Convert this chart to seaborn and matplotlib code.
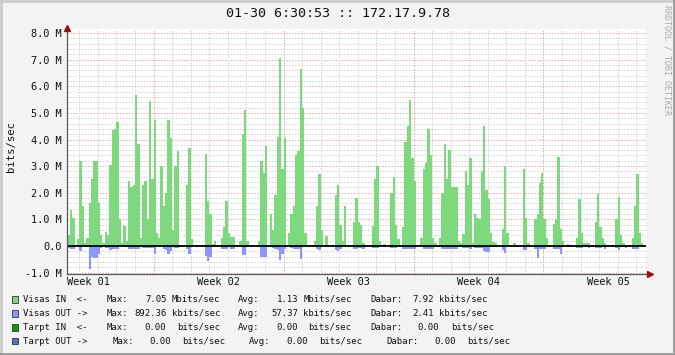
import numpy as np
import pandas as pd
import matplotlib
matplotlib.use("Agg")
import matplotlib.pyplot as plt
import seaborn as sns
from matplotlib.patches import Rectangle
from matplotlib.lines import Line2D

# ---- data: 3-hour samples (values in Mbit/s), grouped per week ----
in_w0 = [0, 0, 0.3, 0.4, 1.37, 1.06, 0.05, 0.25, 3.2, 1.5,
         0.1, 0.3, 1.6, 2.5, 3.2, 3.2, 1.6, 0.4, 0.1, 0.54,
         0.4, 3.05, 4.35, 4.4, 4.65, 1.0, 0.1, 0.75, 0.2, 2.44,
         2.2, 2.3, 5.69, 3.85, 0.3, 2.3, 2.44, 1.0, 5.45, 2.5]
in_w1 = [4.72, 0.5, 0.3, 3.0, 1.5, 2.0, 4.75, 4.06, 0.6, 3.0,
         3.56, 0.05, 0, 0.05, 2.3, 3.7, 0.25, 0.03, 0.03, 0.03,
         0, 0.03, 3.44, 1.7, 1.19, 0.06, 0.19, 0.03, 0.03, 0.3,
         0.7, 1.7, 0.5, 0.34, 0.35, 0.03, 0.03, 0.2, 4.2, 5.1,
         0.2, 0.03, 0.03, 0.03, 0.03, 0.2, 3.2, 2.75, 3.75, 0.05,
         1.2, 0.6, 1.9, 4.1, 7.05, 2.9]
in_w2 = [4.06, 0.03, 0.5, 1.2, 1.5, 3.4, 3.56, 6.65, 5.2, 0.5,
         0.03, 0.03, 0.03, 0.2, 1.5, 2.7, 0.6, 0.02, 0.37, 0.02,
         0.02, 0.02, 1.9, 2.3, 0.8, 0.2, 1.5, 0.05, 0.02, 0.02,
         0.9, 1.8, 0.9, 0.8, 0.1, 0.02, 0.02, 0.02, 0.75, 2.5,
         3.0, 0.19, 0.02, 0.08, 0.02, 0.02, 2.0, 2.6, 0.8, 0.25,
         0.02, 0.73, 3.9, 4.5, 5.5, 3.3]
in_w3 = [2.44, 0.05, 0.02, 0.3, 2.9, 3.1, 4.4, 3.4, 0.3, 0.1,
         0.02, 0.3, 2.0, 3.84, 2.5, 3.6, 2.2, 2.2, 2.2, 0.19,
         0.1, 0.44, 2.8, 2.3, 3.3, 0.1, 1.2, 1.04, 1.0, 2.8,
         4.5, 2.1, 1.75, 0.5, 0.15, 0.1, 0.02, 0.02, 0.63, 3.0,
         0.5, 0.02, 0.02, 0.1, 0.02, 0.02, 0.02, 2.9, 1.06, 0.1,
         0.02, 0.02, 1.0, 1.2, 2.37, 2.75]
in_w4 = [1.0, 0.3, 0.05, 0.02, 0.84, 1.0, 3.35, 0.63, 0.19, 0.02,
         0.08, 0.02, 0.02, 0.02, 0.3, 1.75, 0.5, 0.1, 0.1, 0.1,
         0.02, 0.02, 0.9, 1.94, 0.7, 0.3, 0.1, 0.02, 0.02, 0.02,
         0.02, 1.0, 1.84, 0.4, 0.1, 0.05, 0.02, 0.02, 0.3, 1.5,
         2.7, 0.5, 0.1, 0.05]

out_w0 = [0, 0, 0.05, 0.06, 0.1, 0.12, 0, 0.05, 0.2, 0.05,
          0.03, 0.05, 0.88, 0.4, 0.44, 0.44, 0.3, 0.06, 0.02, 0.06,
          0.06, 0.16, 0.12, 0.12, 0.12, 0.05, 0, 0.02, 0.05, 0.12,
          0.12, 0.12, 0.12, 0.12, 0.02, 0.08, 0.08, 0.08, 0.08, 0.08]
out_w1 = [0.29, 0.05, 0.05, 0.05, 0.1, 0.15, 0.31, 0.2, 0.05, 0.09,
          0.09, 0.02, 0, 0, 0.12, 0.31, 0.03, 0, 0, 0,
          0, 0, 0.37, 0.56, 0.4, 0.03, 0.03, 0, 0, 0.1,
          0.12, 0.1, 0.05, 0.1, 0.12, 0, 0, 0.02, 0.35, 0.35,
          0.05, 0, 0, 0, 0, 0.02, 0.41, 0.41, 0.41, 0.05,
          0.05, 0.09, 0.12, 0.15, 0.54, 0.31]
out_w2 = [0.12, 0.02, 0.05, 0.09, 0.12, 0.12, 0.12, 0.5, 0.05, 0.03,
          0, 0, 0, 0.05, 0.12, 0.14, 0.05, 0, 0.02, 0,
          0, 0, 0.16, 0.2, 0.1, 0.02, 0.05, 0, 0, 0,
          0.1, 0.12, 0.08, 0.08, 0.1, 0, 0, 0, 0.06, 0.06,
          0.06, 0.03, 0, 0.02, 0, 0, 0.08, 0.08, 0.08, 0.03,
          0, 0.1, 0.1, 0.1, 0.1, 0.1]
out_w3 = [0.1, 0.02, 0, 0.05, 0.12, 0.12, 0.12, 0.12, 0.1, 0.02,
          0, 0.03, 0.12, 0.12, 0.12, 0.12, 0.12, 0.12, 0.12, 0.05,
          0.02, 0.09, 0.09, 0.09, 0.12, 0.03, 0.06, 0.06, 0.06, 0.06,
          0.19, 0.22, 0.22, 0.05, 0.02, 0, 0, 0, 0.16, 0.25,
          0.05, 0, 0, 0.02, 0, 0, 0, 0.16, 0.16, 0.02,
          0, 0, 0.1, 0.44, 0.1, 0.1]
out_w4 = [0.12, 0.03, 0, 0, 0.1, 0.1, 0.12, 0.31, 0.05, 0,
          0.02, 0, 0, 0, 0.06, 0.06, 0.06, 0.02, 0.02, 0.08,
          0, 0, 0.08, 0.08, 0.08, 0.02, 0.12, 0, 0, 0,
          0, 0.08, 0.15, 0.05, 0.02, 0.08, 0, 0, 0.1, 0.1,
          0.12, 0.03, 0, 0]

week_labels = ["Week 01", "Week 02", "Week 03", "Week 04", "Week 05"]
y_ticks = [-1, 0, 1, 2, 3, 4, 5, 6, 7, 8]
y_tick_labels = ["-1.0 M", "0.0", "1.0 M", "2.0 M", "3.0 M", "4.0 M",
                 "5.0 M", "6.0 M", "7.0 M", "8.0 M"]
title = "01-30 6:30:53 :: 172.17.9.78"

legend_rows = [
    [("Visas IN  <-", 23.3, "left"), ("Max:", 106.7, "left"), ("7.05", 166.7, "right"),
     ("Mbits/sec", 171.7, "left"), ("Avg:", 238.3, "left"), ("1.13", 298.3, "right"),
     ("Mbits/sec", 303.3, "left"), ("Dabar:", 370.0, "left"), ("7.92", 434.0, "right"),
     ("kbits/sec", 439.3, "left")],
    [("Visas OUT ->", 23.3, "left"), ("Max:", 106.7, "left"), ("892.36", 166.7, "right"),
     ("kbits/sec", 171.7, "left"), ("Avg:", 238.3, "left"), ("57.37", 298.3, "right"),
     ("kbits/sec", 303.3, "left"), ("Dabar:", 370.0, "left"), ("2.41", 434.0, "right"),
     ("kbits/sec", 439.3, "left")],
    [("Tarpt IN  <-", 23.3, "left"), ("Max:", 106.7, "left"), ("0.00", 166.0, "right"),
     ("bits/sec", 176.7, "left"), ("Avg:", 238.3, "left"), ("0.00", 298.0, "right"),
     ("bits/sec", 308.3, "left"), ("Dabar:", 370.0, "left"), ("0.00", 439.3, "right"),
     ("bits/sec", 451.0, "left")],
    [("Tarpt OUT ->", 23.3, "left"), ("Max:", 112.3, "left"), ("0.00", 171.0, "right"),
     ("bits/sec", 182.3, "left"), ("Avg:", 249.3, "left"), ("0.00", 308.3, "right"),
     ("bits/sec", 319.3, "left"), ("Dabar:", 386.0, "left"), ("0.00", 455.7, "right"),
     ("bits/sec", 467.3, "left")],
]
legend_colors = ["#7ED97E", "#8C96FF", "#00A000", "#5070C8"]

# ---- build frame ----
in_vals = np.concatenate([in_w0, in_w1, in_w2, in_w3, in_w4])
out_vals = np.concatenate([out_w0, out_w1, out_w2, out_w3, out_w4])
step = 0.125  # days (3 hours)
n = len(in_vals)
centers = (np.arange(n) + 0.5) * step
df = pd.DataFrame({"t": centers, "vin": in_vals, "vout": -out_vals})

sns.set_style("white")
plt.rcParams["font.family"] = ["DejaVu Sans Mono", "DejaVu Sans"]

W, H = 675, 355
fig = plt.figure(figsize=(W / 100, H / 100), dpi=100)
fig.patch.set_facecolor("#F3F3F3")

L, R, T, B = 67, 646, 29, 274
ax = fig.add_axes([L / W, 1 - B / H, (R - L) / W, (B - T) / H])
ax.set_facecolor("white")

XMIN, XMAX = 0.34, 31.52
YMIN, YMAX = -1.05, 8.15

# grid
grid_gray = "#D2D2D2"
grid_red = "#E8A6A6"
for v in np.arange(-1.0, 8.01, 0.2):
    if abs(v - round(v)) < 1e-6:
        continue
    ax.axhline(v, color=grid_gray, lw=0.7, ls=(0, (1.5, 1.5)), zorder=1)
for v in y_ticks:
    ax.axhline(v, color=grid_red, lw=0.7, ls=(0, (1.5, 1.5)), zorder=1)
week_lines = [5, 12, 19, 26]
for d in range(1, 32):
    if d in week_lines:
        ax.axvline(d, color=grid_red, lw=0.7, ls=(0, (1.5, 1.5)), zorder=1)
    else:
        ax.axvline(d, color=grid_gray, lw=0.7, ls=(0, (1.5, 1.5)), zorder=1)

# data areas
sns.histplot(data=df, x="t", weights="vin", binwidth=step, binrange=(0, n * step),
             element="step", fill=True, color="#7ED97E", alpha=1, linewidth=0,
             ax=ax, zorder=2)
sns.histplot(data=df, x="t", weights="vout", binwidth=step, binrange=(0, n * step),
             element="step", fill=True, color="#8C96FF", alpha=1, linewidth=0,
             ax=ax, zorder=2)

ax.axhline(0, color="black", lw=1.3, zorder=3)

ax.set_xlim(XMIN, XMAX)
ax.set_ylim(YMIN, YMAX)
ax.set_xlabel("")
ax.set_ylabel("")

for s in ["top", "right"]:
    ax.spines[s].set_visible(False)
for s in ["left", "bottom"]:
    ax.spines[s].set_color("#5A5A5A")
    ax.spines[s].set_linewidth(0.9)
    ax.spines[s].set_zorder(4)

ax.set_yticks(y_ticks)
ax.set_yticklabels(y_tick_labels)
ax.set_yticks(np.arange(-1.0, 8.01, 0.2), minor=True)
ax.tick_params(axis="y", which="major", length=3, width=0.7, color="#5A5A5A",
               direction="inout", pad=2.5, labelsize=7.4, labelcolor="#111111")
ax.tick_params(axis="y", which="minor", length=2, width=0.6, color="#8A8A8A", direction="inout")

ax.set_xticks([1.5, 8.5, 15.5, 22.5, 29.5])
ax.set_xticklabels(week_labels)
ax.set_xticks(list(range(1, 32)), minor=True)
ax.tick_params(axis="x", which="major", length=0, pad=2.5, labelsize=7.4, labelcolor="#111111")
ax.tick_params(axis="x", which="minor", length=2, width=0.6, color="#8A8A8A", direction="inout")

# arrows
ax.plot([XMIN], [YMAX + 0.05], marker="^", color="#9A1010", markersize=4.5,
        clip_on=False, zorder=5)
ax.plot([XMAX + 0.2], [YMIN], marker=">", color="#9A1010", markersize=4.5,
        clip_on=False, zorder=5)
ax.add_line(Line2D([XMAX, XMAX + 0.2], [YMIN, YMIN], color="#5A5A5A", lw=0.9,
                   clip_on=False, zorder=4))

# texts
fig.text(338 / W, 1 - 13.5 / H, title, ha="center", va="center", fontsize=9.6, color="#111111")
fig.text(11.5 / W, 1 - 146 / H, "bits/sec", rotation=90, ha="center", va="center",
         fontsize=7.6, color="#111111")
fig.text(666.5 / W, 1 - 60 / H, "RRDTOOL / TOBI OETIKER", rotation=270, ha="center",
         va="center", fontsize=6.0, color="#AAAAAA")

row_y = [299.5, 313.4, 327.2, 341.0]
for ry, row, col in zip(row_y, legend_rows, legend_colors):
    fig.patches.append(Rectangle((11.7 / W, 1 - (ry + 3.3) / H), 5.8 / W, 6.6 / H,
                                 transform=fig.transFigure, facecolor=col,
                                 edgecolor="#333333", lw=0.6))
    for txt, x, ha in row:
        fig.text(x / W, 1 - ry / H, txt, ha=ha, va="center", fontsize=6.5, color="#111111")

# 3D-ish border
fig.add_artist(Line2D([0, 1], [1 - 1 / H, 1 - 1 / H], transform=fig.transFigure, color="#CCCCCC", lw=2))
fig.add_artist(Line2D([1 / W, 1 / W], [0, 1], transform=fig.transFigure, color="#CCCCCC", lw=2))
fig.add_artist(Line2D([0, 1], [1 / H, 1 / H], transform=fig.transFigure, color="#9A9A9A", lw=2))
fig.add_artist(Line2D([1 - 1 / W, 1 - 1 / W], [0, 1], transform=fig.transFigure, color="#9A9A9A", lw=2))

fig.savefig("out.png", dpi=100, facecolor=fig.get_facecolor())
